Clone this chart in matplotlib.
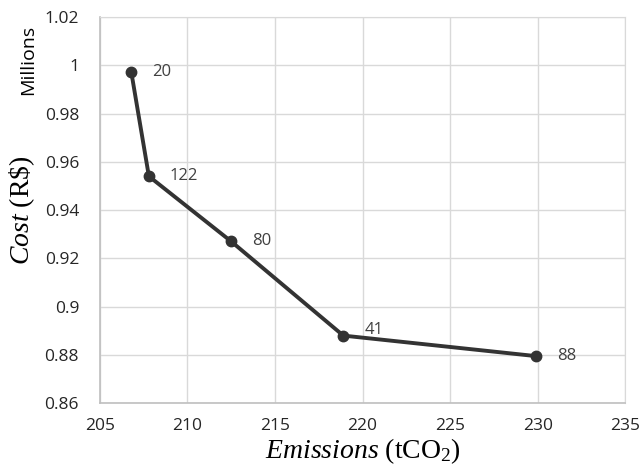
import matplotlib.pyplot as plt

plt.rcParams['mathtext.fontset'] = 'custom'
plt.rcParams['mathtext.it'] = 'Liberation Serif:italic'
plt.rcParams['mathtext.rm'] = 'Liberation Serif'

# pareto points
emissions = [206.8, 207.8, 212.5, 218.9, 229.9]
cost = [0.997, 0.954, 0.927, 0.888, 0.8795]
labels = ['20', '122', '80', '41', '88']

x_ticks = [205, 210, 215, 220, 225, 230, 235]
y_ticks = [0.86, 0.88, 0.9, 0.92, 0.94, 0.96, 0.98, 1.0, 1.02]
y_tick_labels = ['0.86', '0.88', '0.9', '0.92', '0.94', '0.96', '0.98', '1', '1.02']

tick_font = 'Open Sans'
label_font = 'Liberation Serif'

fig = plt.figure(figsize=(6.4, 4.71), dpi=100)
ax = fig.add_axes([0.156, 0.144, 0.821, 0.82])

ax.plot(emissions, cost, color='#333333', linewidth=2.8, marker='o',
        markersize=7.5, zorder=3)
for x, y, t in zip(emissions, cost, labels):
    dy = 4 if t == '41' else 0
    ax.annotate(t, (x, y), xytext=(15, dy), textcoords='offset points',
                va='center', ha='left', fontsize=12, color='#404040',
                family=tick_font)

ax.set_xlim(205, 235)
ax.set_ylim(0.86, 1.02)
ax.set_xticks(x_ticks)
ax.set_yticks(y_ticks)
ax.set_yticklabels(y_tick_labels)
ax.tick_params(length=0, labelsize=12.5, colors='#262626')
ax.tick_params(axis='x', pad=11)
ax.tick_params(axis='y', pad=15)
for lbl in ax.get_xticklabels() + ax.get_yticklabels():
    lbl.set_family(tick_font)

ax.grid(color='#d9d9d9', linewidth=1)
ax.set_axisbelow(True)
for side in ['top', 'right']:
    ax.spines[side].set_color('#d9d9d9')
for side in ['left', 'bottom']:
    ax.spines[side].set_color('#bfbfbf')
    ax.spines[side].set_linewidth(1.2)

ax.set_xlabel(r'$\it{Emissions}$ (tCO$_2$)', fontsize=20, family=label_font,
              labelpad=1)
fig.text(0.034, 0.554, r'$\it{Cost}$ (R\$)', rotation=90, fontsize=20,
         family=label_font, ha='center', va='center')
fig.text(0.044, 0.873, 'Millions', rotation=90, fontsize=14,
         family=tick_font, ha='center', va='center')

fig.savefig('out.png', dpi=100)
